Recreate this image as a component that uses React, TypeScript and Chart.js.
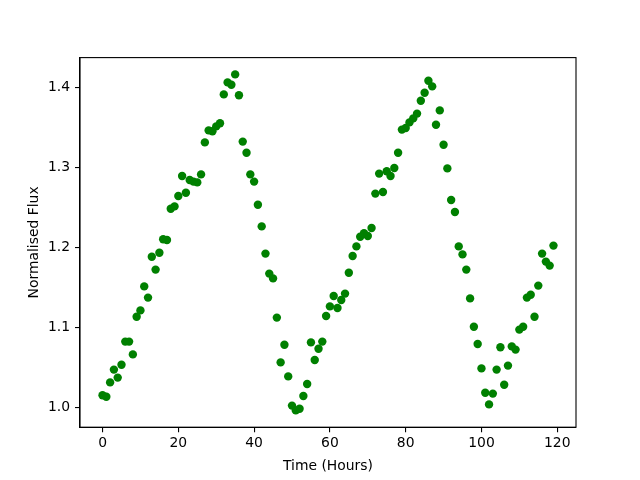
import React, { useEffect, useRef } from "react";
import { Chart, registerables } from "chart.js";

Chart.register(...registerables);

const hours: number[] = Array.from({ length: 120 }, (_, i) => i);
const flux: number[] = [
  1.015, 1.013, 1.031, 1.047, 1.037, 1.053, 1.082, 1.082, 1.066, 1.113,
  1.121, 1.151, 1.137, 1.188, 1.172, 1.193, 1.210, 1.209, 1.248, 1.251,
  1.264, 1.289, 1.268, 1.284, 1.282, 1.281, 1.291, 1.331, 1.346, 1.345,
  1.351, 1.355, 1.391, 1.406, 1.403, 1.416, 1.390, 1.332, 1.318, 1.291,
  1.282, 1.253, 1.226, 1.192, 1.167, 1.161, 1.112, 1.056, 1.078, 1.0385,
  1.002, 0.996, 0.998, 1.014, 1.029, 1.081, 1.059, 1.073, 1.082, 1.114,
  1.126, 1.139, 1.124, 1.134, 1.142, 1.168, 1.189, 1.201, 1.213, 1.2176,
  1.214, 1.224, 1.267, 1.292, 1.269, 1.295, 1.289, 1.299, 1.318, 1.347,
  1.349, 1.356, 1.361, 1.367, 1.383, 1.393, 1.408, 1.401, 1.353, 1.371,
  1.328, 1.2985, 1.259, 1.244, 1.201, 1.191, 1.172, 1.136, 1.1006, 1.079,
  1.0485, 1.018, 1.0035, 1.017, 1.047, 1.075, 1.028, 1.052, 1.076, 1.072,
  1.097, 1.1006, 1.137, 1.1406, 1.113, 1.152, 1.192, 1.182, 1.177, 1.202,
];
const xTicks: number[] = [0, 20, 40, 60, 80, 100, 120];
const yTicks: number[] = [1.0, 1.1, 1.2, 1.3, 1.4];
const xLabel = "Time (Hours)";
const yLabel = "Normalised Flux";

const FONT = "DejaVu Sans";
const FS = 13.9;

const frame = {
  id: "frame",
  afterDraw(chart: any) {
    const { ctx, chartArea: a } = chart;
    ctx.save();
    ctx.strokeStyle = "#000";
    ctx.lineWidth = 1.1;
    ctx.strokeRect(a.left, a.top, a.right - a.left, a.bottom - a.top);
    ctx.restore();
  },
};

export default function App() {
  const ref = useRef<HTMLCanvasElement | null>(null);
  useEffect(() => {
    if (!ref.current) return;
    const xMin = Math.min(...hours), xMax = Math.max(...hours);
    const yMin = Math.min(...flux), yMax = Math.max(...flux);
    const xm = (xMax - xMin) * 0.05, ym = (yMax - yMin) * 0.05;
    const chart = new Chart(ref.current, {
      type: "scatter",
      data: {
        datasets: [
          {
            data: hours.map((h, i) => ({ x: h, y: flux[i] })),
            backgroundColor: "#008000",
            borderColor: "#008000",
            borderWidth: 0,
            pointRadius: 4.2,
            pointHoverRadius: 4.2,
          },
        ],
      },
      options: {
        responsive: false,
        animation: false,
        events: [],
        layout: { padding: { left: 0, top: 57.6, right: 64, bottom: 0 } },
        plugins: { legend: { display: false }, tooltip: { enabled: false } },
        scales: {
          x: {
            type: "linear",
            min: xMin - xm,
            max: xMax + xm,
            bounds: "data",
            afterBuildTicks: (axis: any) => {
              axis.ticks = xTicks.map((v) => ({ value: v }));
            },
            afterFit: (axis: any) => {
              axis.height = 480 - 427.2;
            },
            grid: {
              drawOnChartArea: false,
              drawTicks: true,
              tickLength: 5,
              color: "#000",
              lineWidth: 1.1,
            },
            border: { display: true, color: "#000", width: 1.1 },
            ticks: {
              color: "#000",
              font: { family: FONT, size: FS },
              padding: 3,
              autoSkip: false,
              maxRotation: 0,
              callback: (v: any) => String(v),
            },
            title: {
              display: true,
              text: xLabel,
              color: "#000",
              font: { family: FONT, size: FS },
              padding: { top: 0, bottom: 5 },
            },
          },
          y: {
            type: "linear",
            min: yMin - ym,
            max: yMax + ym,
            bounds: "data",
            afterBuildTicks: (axis: any) => {
              axis.ticks = yTicks.map((v) => ({ value: v }));
            },
            afterFit: (axis: any) => {
              axis.width = 80;
            },
            grid: {
              drawOnChartArea: false,
              drawTicks: true,
              tickLength: 5,
              color: "#000",
              lineWidth: 1.1,
            },
            border: { display: true, color: "#000", width: 1.1 },
            ticks: {
              color: "#000",
              font: { family: FONT, size: FS },
              padding: 5,
              autoSkip: false,
              callback: (v: any) => Number(v).toFixed(1),
            },
            title: {
              display: true,
              text: yLabel,
              color: "#000",
              font: { family: FONT, size: FS },
              padding: { top: 26.5, bottom: 0 },
            },
          },
        },
      },
      plugins: [frame],
    });
    return () => chart.destroy();
  }, []);
  return (
    <div style={{ position: "fixed", left: 0, top: 0, width: 640, height: 480, background: "#fff" }}>
      <canvas ref={ref} width={640} height={480} />
    </div>
  );
}
